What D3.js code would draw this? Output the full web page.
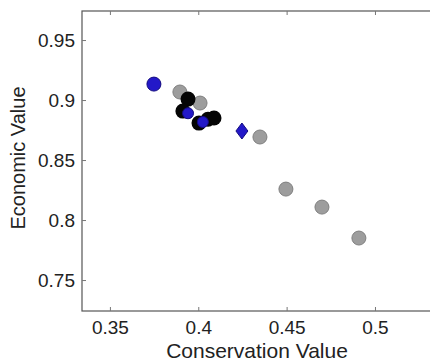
<!DOCTYPE html>
<html>
<head>
<meta charset="utf-8">
<script src="https://cdn.jsdelivr.net/npm/d3@7"></script>
<style>
  body { margin: 0; background: #fff; }
  svg { display: block; font-family: 'Liberation Sans', Arial, sans-serif; }
  .tick-label { fill: #222; font-size: 19px; }
  .axis-title { fill: #222; }
</style>
</head>
<body>
<svg></svg>
<script>
// gray circles (drawn first, behind)
const grayX = [0.3896, 0.4010, 0.4349, 0.4496, 0.4700, 0.4909];
const grayY = [0.9067, 0.8975, 0.8692, 0.8258, 0.8108, 0.7850];
// black circles
const blackX = [0.3942, 0.3913, 0.4004, 0.4055, 0.4089];
const blackY = [0.9008, 0.8908, 0.8808, 0.8840, 0.8850];
// blue circles (big one alone, small ones sitting on black)
const blueX = [0.3749, 0.3942, 0.4026];
const blueY = [0.9133, 0.8890, 0.8817];
const blueR = [7, 5.5, 5.5];
// blue diamond
const diamondX = [0.4247];
const diamondY = [0.8742];

const xTicks = [0.35, 0.4, 0.45, 0.5];
const yTicks = [0.75, 0.8, 0.85, 0.9, 0.95];

const WIDTH = 430;
const HEIGHT = 362;
const MARGINS = { left: 82, top: 11, bottom: 311, right: 440 };

const x = d3.scaleLinear().domain([0.3342, 0.5368]).range([MARGINS.left, MARGINS.right]);
const y = d3.scaleLinear().domain([0.7242, 0.9742]).range([MARGINS.bottom, MARGINS.top]);

const svg = d3.select('svg').attr('width', WIDTH).attr('height', HEIGHT);

// box
svg.append('rect')
    .attr('x', MARGINS.left)
    .attr('y', MARGINS.top)
    .attr('width', MARGINS.right - MARGINS.left)
    .attr('height', MARGINS.bottom - MARGINS.top)
    .attr('fill', '#fff')
    .attr('stroke', '#555')
    .attr('stroke-width', 1.2);

// inward ticks, bottom + top
svg.append('g')
    .attr('transform', `translate(0, ${MARGINS.bottom})`)
    .call(d3.axisBottom(x).tickValues(xTicks).tickSizeInner(-4).tickSizeOuter(0).tickFormat(d3.format('')))
    .call(g => g.select('.domain').remove())
    .call(g => g.selectAll('line').attr('stroke', '#777'))
    .call(g => g.selectAll('text').attr('class', 'tick-label').attr('y', 10).attr('dy', '0.71em').attr('font-family', null).attr('font-size', null));

svg.append('g')
    .attr('transform', `translate(0, ${MARGINS.top})`)
    .call(d3.axisTop(x).tickValues(xTicks).tickSizeInner(-4).tickSizeOuter(0).tickFormat(''))
    .call(g => g.select('.domain').remove())
    .call(g => g.selectAll('line').attr('stroke', '#777'));

svg.append('g')
    .attr('transform', `translate(${MARGINS.left}, 0)`)
    .call(d3.axisLeft(y).tickValues(yTicks).tickSizeInner(-4).tickSizeOuter(0).tickFormat(d3.format('')))
    .call(g => g.select('.domain').remove())
    .call(g => g.selectAll('line').attr('stroke', '#777'))
    .call(g => g.selectAll('text').attr('class', 'tick-label').attr('x', -7).attr('font-family', null).attr('font-size', null));

// markers
svg.append('g').selectAll('circle')
    .data(grayX.map((d, i) => [d, grayY[i]]))
    .join('circle')
    .attr('cx', d => x(d[0]))
    .attr('cy', d => y(d[1]))
    .attr('r', 7)
    .attr('fill', '#9d9d9d')
    .attr('stroke', '#808080')
    .attr('stroke-width', 1);

svg.append('g').selectAll('circle')
    .data(blackX.map((d, i) => [d, blackY[i]]))
    .join('circle')
    .attr('cx', d => x(d[0]))
    .attr('cy', d => y(d[1]))
    .attr('r', 7.5)
    .attr('fill', '#050505');

svg.append('g').selectAll('circle')
    .data(blueX.map((d, i) => [d, blueY[i], blueR[i]]))
    .join('circle')
    .attr('cx', d => x(d[0]))
    .attr('cy', d => y(d[1]))
    .attr('r', d => d[2])
    .attr('fill', '#2318c8')
    .attr('stroke', '#140c80')
    .attr('stroke-width', 1);

svg.append('g').selectAll('path')
    .data(diamondX.map((d, i) => [d, diamondY[i]]))
    .join('path')
    .attr('transform', d => `translate(${x(d[0])}, ${y(d[1])})`)
    .attr('d', 'M0,-8L6,0L0,8L-6,0Z')
    .attr('fill', '#2318c8')
    .attr('stroke', '#140c80')
    .attr('stroke-width', 1);

// axis titles
svg.append('text')
    .attr('class', 'axis-title')
    .attr('x', 257)
    .attr('y', 358)
    .attr('text-anchor', 'middle')
    .attr('font-size', 21)
    .text('Conservation Value');

svg.append('text')
    .attr('class', 'axis-title')
    .attr('transform', 'translate(25, 158) rotate(-90)')
    .attr('text-anchor', 'middle')
    .attr('font-size', 20)
    .text('Economic Value');
</script>
</body>
</html>
